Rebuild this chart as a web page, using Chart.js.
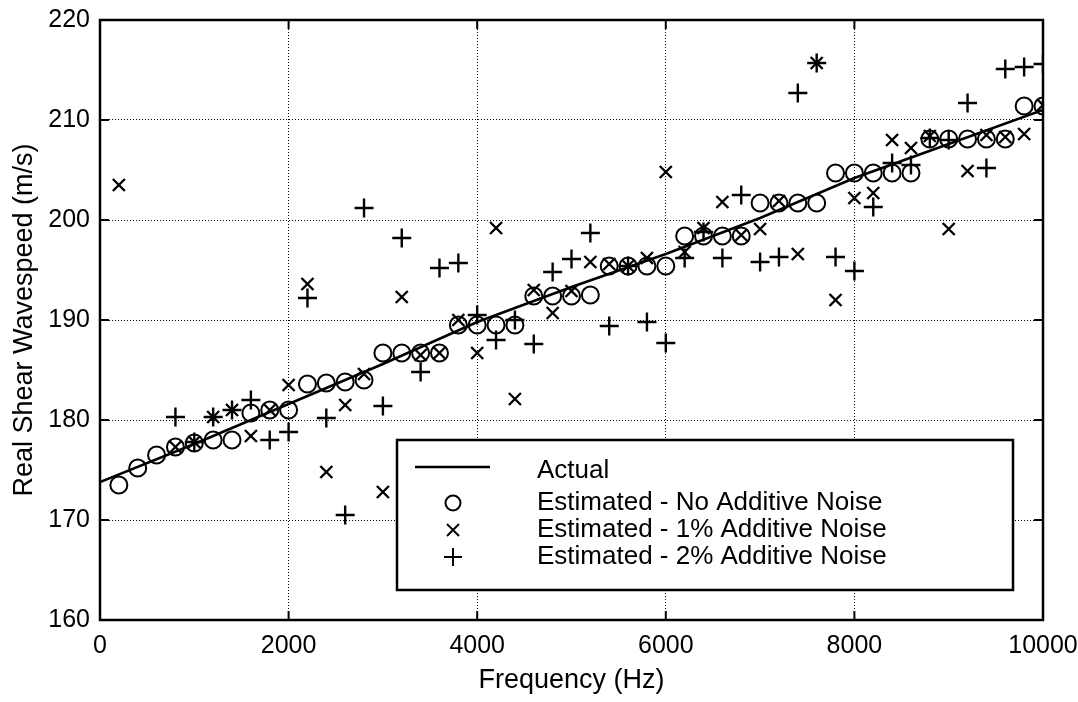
<!DOCTYPE html>
<html lang="en">
<head>
  <meta charset="UTF-8">
  <title>Real Shear Wavespeed vs Frequency</title>
  <script src="https://cdn.jsdelivr.net/npm/chart.js"></script>
  <style>
    html, body { margin: 0; padding: 0; background: #fff; }
  </style>
</head>
<body>
  <canvas id="grafico" width="1078" height="702"></canvas>

  <script>
    // Frecuencias (Hz) de las estimaciones
    const freqs = [200, 400, 600, 800, 1000, 1200, 1400, 1600, 1800, 2000,
                   2200, 2400, 2600, 2800, 3000, 3200, 3400, 3600, 3800, 4000,
                   4200, 4400, 4600, 4800, 5000, 5200, 5400, 5600, 5800, 6000,
                   6200, 6400, 6600, 6800, 7000, 7200, 7400, 7600, 7800, 8000,
                   8200, 8400, 8600, 8800, 9000, 9200, 9400, 9600, 9800, 10000];

    // Estimated - No Additive Noise (circles)
    const noNoise = [173.5, 175.2, 176.5, 177.3, 177.7, 178.0, 178.0, 180.7, 181.0, 181.0,
                     183.6, 183.7, 183.8, 184.0, 186.7, 186.7, 186.7, 186.7, 189.5, 189.5,
                     189.5, 189.5, 192.4, 192.4, 192.4, 192.5, 195.4, 195.4, 195.4, 195.4,
                     198.4, 198.4, 198.4, 198.4, 201.7, 201.7, 201.7, 201.7, 204.7, 204.7,
                     204.7, 204.7, 204.7, 208.1, 208.1, 208.1, 208.1, 208.1, 211.4, 211.4];

    // Estimated - 1% Additive Noise (x)
    const noise1 = [203.5, null, null, 177.3, 177.8, 180.3, 181.0, 178.4, 181.0, 183.5,
                    193.6, 174.8, 181.5, 184.6, 172.8, 192.3, 186.5, 186.7, 190.0, 186.7,
                    199.2, 182.1, 193.0, 190.7, 192.9, 195.8, 195.6, 195.4, 196.2, 204.8,
                    196.8, 199.2, 201.8, 198.5, 199.1, 201.9, 196.6, 215.7, 192.0, 202.2,
                    202.7, 208.0, 207.2, 208.4, 199.1, 204.9, 208.5, 208.3, 208.6, 211.5];

    // Estimated - 2% Additive Noise (+)
    const noise2 = [null, null, null, 180.3, 177.8, 180.3, 181.0, 182.0, 178.0, 178.8,
                    192.2, 180.2, 170.5, 201.2, 181.4, 198.2, 184.8, 195.2, 195.7, 190.5,
                    188.0, 190.0, 187.6, 194.8, 196.1, 198.7, 189.4, 195.4, 189.8, 187.7,
                    196.2, 198.8, 196.2, 202.5, 195.8, 196.3, 212.7, 215.7, 196.3, 194.9,
                    201.3, 205.7, 205.5, 208.2, 208.0, 211.7, 205.2, 215.1, 215.3, 215.6];

    // Actual
    const actualFreqs = [0, 1000, 2000, 3000, 4000, 5000, 6000, 7000, 8000, 9000, 10000];
    const actualSpeed = [173.8, 177.6, 181.6, 185.6, 189.8, 193.3, 196.6, 200.2, 204.2, 207.6, 211.0];

    const xTicks = [0, 2000, 4000, 6000, 8000, 10000];
    const yTicks = [160, 170, 180, 190, 200, 210, 220];

    const legendLabels = ['Actual', 'Estimated - No Additive Noise',
                          'Estimated - 1% Additive Noise', 'Estimated - 2% Additive Noise'];

    const FONT = 'Arial, "Liberation Sans", sans-serif';

    function puntos(xs, ys) {
      return xs.map((f, i) => ({ x: f, y: ys[i] }));
    }

    // marco, marcas interiores y leyenda
    const marcoPlugin = {
      id: 'marco',
      afterDraw(chart) {
        const { ctx, chartArea: a, scales: { x, y } } = chart;
        ctx.save();
        ctx.strokeStyle = '#000';
        ctx.lineWidth = 2.5;
        ctx.strokeRect(a.left, a.top, a.right - a.left, a.bottom - a.top);

        ctx.lineWidth = 2;
        const len = 9;
        ctx.beginPath();
        xTicks.forEach(v => {
          const px = x.getPixelForValue(v);
          ctx.moveTo(px, a.bottom); ctx.lineTo(px, a.bottom - len);
          ctx.moveTo(px, a.top); ctx.lineTo(px, a.top + len);
        });
        yTicks.forEach(v => {
          const py = y.getPixelForValue(v);
          ctx.moveTo(a.left, py); ctx.lineTo(a.left + len, py);
          ctx.moveTo(a.right, py); ctx.lineTo(a.right - len, py);
        });
        ctx.stroke();

        // leyenda
        const bx = 397, by = 440, bw = 616, bh = 150;
        ctx.fillStyle = '#fff';
        ctx.fillRect(bx, by, bw, bh);
        ctx.lineWidth = 2.5;
        ctx.strokeRect(bx, by, bw, bh);

        const mx = 453, tx = 537;
        const rows = [471, 503, 530, 557];

        ctx.lineWidth = 2.5;
        ctx.beginPath();
        ctx.moveTo(415, 467); ctx.lineTo(490, 467);
        ctx.stroke();

        ctx.lineWidth = 2;
        ctx.beginPath();
        ctx.arc(mx, rows[1], 7.5, 0, Math.PI * 2);
        ctx.stroke();

        ctx.beginPath();
        ctx.moveTo(mx - 6, rows[2] - 6); ctx.lineTo(mx + 6, rows[2] + 6);
        ctx.moveTo(mx + 6, rows[2] - 6); ctx.lineTo(mx - 6, rows[2] + 6);
        ctx.moveTo(mx - 9, rows[3]); ctx.lineTo(mx + 9, rows[3]);
        ctx.moveTo(mx, rows[3] - 9); ctx.lineTo(mx, rows[3] + 9);
        ctx.stroke();

        ctx.fillStyle = '#000';
        ctx.font = '26px ' + FONT;
        ctx.textBaseline = 'middle';
        ctx.textAlign = 'left';
        legendLabels.forEach((t, i) => ctx.fillText(t, tx, rows[i]));
        ctx.restore();
      }
    };

    const ctx = document.getElementById('grafico').getContext('2d');
    const grafico = new Chart(ctx, {
      type: 'scatter',
      data: {
        datasets: [
          {
            label: legendLabels[0],
            data: puntos(actualFreqs, actualSpeed),
            showLine: true,
            borderColor: '#000',
            borderWidth: 2.5,
            pointRadius: 0,
            tension: 0
          },
          {
            label: legendLabels[1],
            data: puntos(freqs, noNoise),
            pointStyle: 'circle',
            pointRadius: 8.5,
            borderColor: '#000',
            backgroundColor: 'rgba(0,0,0,0)',
            pointBorderWidth: 2
          },
          {
            label: legendLabels[2],
            data: puntos(freqs, noise1),
            pointStyle: 'crossRot',
            pointRadius: 8.5,
            borderColor: '#000',
            pointBorderWidth: 2.4
          },
          {
            label: legendLabels[3],
            data: puntos(freqs, noise2),
            pointStyle: 'cross',
            pointRadius: 9.5,
            borderColor: '#000',
            pointBorderWidth: 2.4
          }
        ]
      },
      options: {
        responsive: false,
        animation: false,
        events: [],
        layout: { padding: { top: 20, right: 35, left: 0, bottom: 0 } },
        plugins: {
          legend: { display: false },
          tooltip: { enabled: false }
        },
        scales: {
          x: {
            type: 'linear',
            min: 0,
            max: 10000,
            afterBuildTicks: s => { s.ticks = xTicks.map(v => ({ value: v })); },
            afterFit: s => { s.height = 82; s.paddingLeft = 0; s.paddingRight = 0; },
            ticks: {
              color: '#000',
              font: { family: FONT, size: 25 },
              padding: 11,
              maxRotation: 0,
              callback: v => String(v)
            },
            grid: { color: '#000', lineWidth: 1, drawTicks: false },
            border: { display: false, dash: [1, 2] },
            title: {
              display: true,
              text: 'Frequency (Hz)',
              color: '#000',
              font: { family: FONT, size: 27 },
              padding: { top: 0, bottom: 5 }
            }
          },
          y: {
            min: 160,
            max: 220,
            afterBuildTicks: s => { s.ticks = yTicks.map(v => ({ value: v })); },
            afterFit: s => { s.width = 100; s.paddingTop = 0; s.paddingBottom = 0; },
            ticks: {
              color: '#000',
              font: { family: FONT, size: 25 },
              padding: 10,
              callback: v => String(v)
            },
            grid: { color: '#000', lineWidth: 1, drawTicks: false },
            border: { display: false, dash: [1, 2] },
            title: {
              display: true,
              text: 'Real Shear Wavespeed (m/s)',
              color: '#000',
              font: { family: FONT, size: 27 },
              padding: { top: 8, bottom: 0 }
            }
          }
        }
      },
      plugins: [marcoPlugin]
    });
  </script>
</body>
</html>
